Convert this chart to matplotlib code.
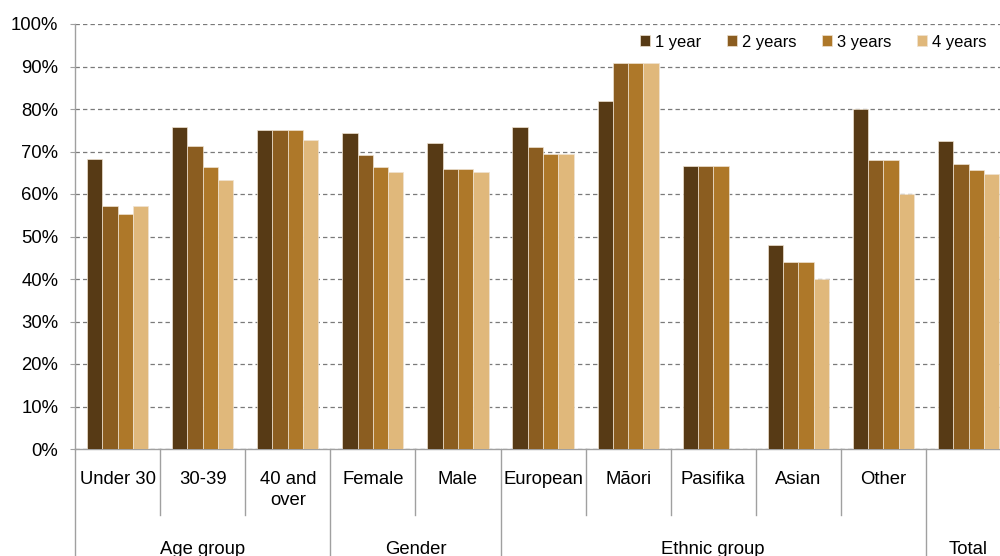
import numpy as np
import matplotlib.pyplot as plt
import matplotlib.transforms as mtransforms

plt.rcParams['font.family'] = ['Liberation Sans', 'DejaVu Sans']

categories = ['Under 30', '30-39', '40 and\nover', 'Female', 'Male', 'European',
              'Māori', 'Pasifika', 'Asian', 'Other', '']
groups = ['Age group', 'Gender', 'Ethnic group', 'Total']
group_spans = [(0, 2), (3, 4), (5, 9), (10, 10)]

series = ['1 year', '2 years', '3 years', '4 years']
year1 = [68.2, 75.8, 75.0, 74.3, 71.9, 75.8, 81.8, 66.7, 48.0, 80.0, 72.5]
year2 = [57.1, 71.3, 75.0, 69.1, 66.0, 71.0, 90.9, 66.7, 44.0, 68.0, 67.0]
year3 = [55.3, 66.4, 75.0, 66.4, 66.0, 69.3, 90.9, 66.7, 44.0, 68.0, 65.7]
year4 = [57.1, 63.3, 72.8, 65.1, 65.1, 69.3, 90.9, np.nan, 40.0, 60.0, 64.8]
colors = ['#573A15', '#8B5D20', '#AE7829', '#E0B87B']

fig = plt.figure(figsize=(10, 5.56), dpi=100)
ax = fig.add_axes([0.075, 107 / 556, 0.925, 425 / 556])

x = np.arange(len(categories))
w = 0.18
for i, (vals, c, lab) in enumerate(zip([year1, year2, year3, year4], colors, series)):
    ax.bar(x + (i - 1.5) * w, vals, w, color=c, label=lab,
           edgecolor='#efe3d2', linewidth=0.5, zorder=3)

ax.set_ylim(0, 100)
ax.set_xlim(-0.5, -0.5 + 925 / 85.1)
ax.set_yticks(np.arange(0, 101, 10))
ax.set_yticklabels([f'{v}%' for v in range(0, 101, 10)], fontsize=13.3)
ax.yaxis.grid(True, color='#7a7a7a', linestyle=(0, (3.5, 2.5)), linewidth=0.9, zorder=0)
ax.set_axisbelow(True)
ax.tick_params(axis='y', length=3.6, width=0.8, color='#a0a0a0', pad=8.5)
ax.set_xticks([])
for s in ['top', 'right']:
    ax.spines[s].set_visible(False)
for s in ['left', 'bottom']:
    ax.spines[s].set_color('#a0a0a0')
    ax.spines[s].set_linewidth(1)

# multi-level category axis
trans = mtransforms.blended_transform_factory(ax.transData, ax.transAxes)
group_edges = {-0.5} | {b + 0.5 for a, b in group_spans}
for k in range(len(categories) + 1):
    xe = k - 0.5
    ybot = -0.3 if xe in group_edges else -66 / 425
    ax.plot([xe, xe], [0, ybot], transform=trans, color='#a0a0a0',
            linewidth=1, clip_on=False)
for k, lab in enumerate(categories):
    ax.text(k, -22 / 425, lab, transform=trans, ha='center', va='top',
            fontsize=13.3, linespacing=1.3)
for g, (a, b) in zip(groups, group_spans):
    ax.text((a + b) / 2, -105 / 425, g, transform=trans, ha='center',
            va='baseline', fontsize=13.3)

ax.legend(loc='center right', bbox_to_anchor=(0.995, 1 - 42 / 556),
          bbox_transform=fig.transFigure, ncol=4, frameon=False,
          fontsize=11.9, handlelength=0.62, handleheight=0.62,
          handletextpad=0.3, columnspacing=1.55, borderpad=0)

fig.savefig('out.png', dpi=100)
